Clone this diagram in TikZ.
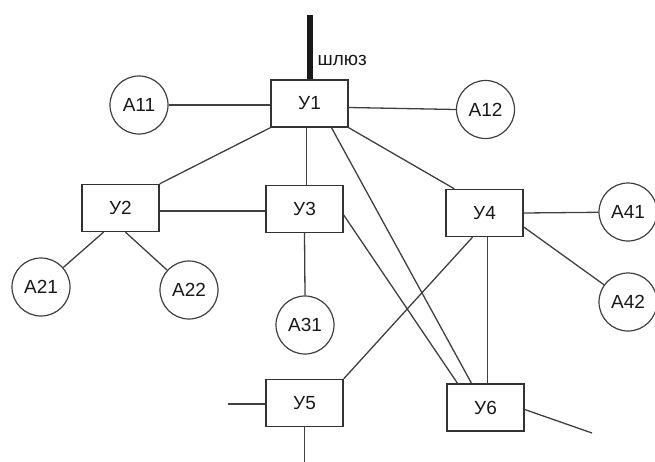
\documentclass[tikz,border=0pt]{standalone}
\usepackage{fontspec}
\setmainfont{Liberation Sans}
\begin{document}
\begin{tikzpicture}[x=1pt,y=-1pt,
  line width=1.3pt, draw=black!80,
  every node/.style={font=\fontsize{19}{21}\selectfont, text=black!90},
  ubox/.style={draw=black!80, line width=1.4pt, rectangle, minimum width=77pt, minimum height=47pt, inner sep=0pt},
  abon/.style={draw=black!75, line width=1.2pt, circle, minimum size=58pt, inner sep=0pt},
  link/.style={draw=black!75, line width=1.3pt}]
\useasboundingbox[fill=white] (0,0) rectangle (655,461);
% switching nodes
\node[ubox] (u1) at (309.5,103.5) {У1};
\node[ubox] (u2) at (120.5,208) {У2};
\node[ubox] (u3) at (304.5,209) {У3};
\node[ubox] (u4) at (484.5,213) {У4};
\node[ubox] (u5) at (304.5,403) {У5};
\node[ubox] (u6) at (485.5,407.5) {У6};
% subscribers
\node[abon] (a11) at (139,105) {А11};
\node[abon] (a12) at (485.5,109.5) {А12};
\node[abon] (a21) at (41,287) {А21};
\node[abon] (a22) at (189,290) {А22};
\node[abon] (a31) at (305,325) {А31};
\node[abon] (a41) at (628,212) {А41};
\node[abon] (a42) at (628,302) {А42};
% free ends
\coordinate (gw) at (310,15);
\coordinate (s5w) at (228,404);
\coordinate (s5s) at (304.5,465);
\coordinate (s6e) at (592,433);
% gateway
\draw[line width=5.5pt, draw=black!90] (gw) -- (gw |- u1.north);
\node[anchor=west, inner sep=0pt] (gwl) at (317,60) {шлюз};
% links
\draw[link] (a11.east) -- (a11.east -| u1.west);
\draw[link] ([yshift=-4pt]u1.east) -- (a12.west);
\draw[link] (u1.south west) -- (u2.north east);
\draw[link] ([xshift=-3pt]u1.south) -- ([xshift=-3pt]u1.south |- u3.north);
\draw[link] (u1.south east) -- ([xshift=9pt]u4.north west);
\draw[link] ([xshift=22pt]u1.south) -- ([xshift=-14pt]u6.north);
\draw[link] ([yshift=-3pt]u2.east) -- ([yshift=-3pt]u2.east -| u3.west);
\draw[link] ([yshift=-6pt]u3.east) -- ([xshift=-28pt]u6.north);
\draw[link] (u3.south) -- (a31.north);
\draw[link] ([xshift=-17pt]u2.south) -- (a21);
\draw[link] ([xshift=5pt]u2.south) -- (a22);
\draw[link] (u4.east) -- (a41);
\draw[link] ([yshift=-14pt]u4.east) -- (a42);
\draw[link] ([xshift=-12pt]u4.south) -- (u5.north east);
\draw[link] ([xshift=3pt]u4.south) -- ([xshift=3pt]u4.south |- u6.north);
\draw[link] ([yshift=-1pt]u5.west) -- (s5w);
\draw[link] (u5.south) -- (s5s);
\draw[link] ([yshift=-2pt]u6.east) -- (s6e);
\end{tikzpicture}
\end{document}
